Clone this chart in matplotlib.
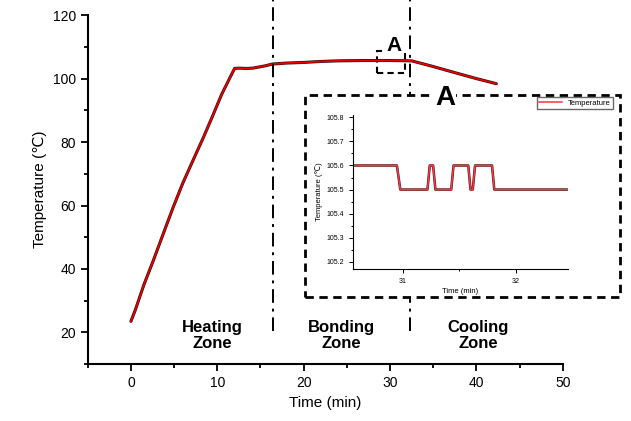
import matplotlib
matplotlib.use("Agg")
import matplotlib.pyplot as plt
import matplotlib.patches as patches
from matplotlib.ticker import MultipleLocator

plt.rcParams['font.family'] = ['Liberation Sans', 'DejaVu Sans']

# main temperature profile (min, degC)
time_main = [0.0, 0.5, 1.5, 2.6, 3.8, 4.9, 6.0, 7.2, 8.4, 9.5, 10.5, 11.5,
             12.0, 12.5, 13.4, 14.1, 15.5, 16.4, 18.0, 20.0, 21.9, 24.0, 26.9,
             30.0, 32.5, 35.0, 38.0, 40.0, 42.3]
temp_main = [23.5, 27.0, 35.0, 42.7, 51.5, 59.5, 67.0, 74.3, 81.5, 88.5, 95.0,
             100.5, 103.2, 103.3, 103.2, 103.3, 104.0, 104.6, 104.9, 105.1,
             105.4, 105.6, 105.7, 105.7, 105.6, 103.8, 101.5, 100.0, 98.4]

# zoomed detail "A"
time_in = [30.5, 30.95, 30.98, 31.22, 31.24, 31.27, 31.29, 31.43, 31.45, 31.58,
           31.60, 31.62, 31.64, 31.79, 31.81, 32.5]
temp_in = [105.6, 105.6, 105.5, 105.5, 105.6, 105.6, 105.5, 105.5, 105.6, 105.6,
           105.5, 105.5, 105.6, 105.6, 105.5, 105.5]

zone_bounds = [16.5, 32.3]
zone_names = ['Heating\nZone', 'Bonding\nZone', 'Cooling\nZone']
zone_x = [9.4, 24.4, 40.2]

fig = plt.figure(figsize=(6.31, 4.21), dpi=100)
ax = fig.add_axes([0.139, 0.135, 0.753, 0.829])

ax.plot(time_main, temp_main, color='#2a1010', lw=2.2, solid_capstyle='round')
ax.plot(time_main, temp_main, color='#e60000', lw=1.3, solid_capstyle='round')

for xb in zone_bounds:
    ax.plot([xb, xb], [20.5, 125], color='black', lw=1.4,
            linestyle=(0, (7, 3, 1.5, 3)), clip_on=False)

for name, xz in zip(zone_names, zone_x):
    ax.text(xz, 19, name, ha='center', va='center', fontsize=12,
            fontweight='bold', linespacing=1.1)

# small marker box A
ax.add_patch(patches.Rectangle((28.5, 101.7), 3.2, 6.9, fill=False, lw=1.5,
                               ls=(0, (3, 2)), ec='black'))
ax.text(30.5, 110.5, 'A', ha='center', va='center', fontsize=15,
        fontweight='bold', bbox=dict(fc='white', ec='none', pad=0.5))

ax.set_xlim(-5, 50)
ax.set_ylim(10, 120)
ax.xaxis.set_major_locator(MultipleLocator(10))
ax.xaxis.set_minor_locator(MultipleLocator(5))
ax.yaxis.set_major_locator(MultipleLocator(20))
ax.yaxis.set_minor_locator(MultipleLocator(10))
ax.set_yticks([20, 40, 60, 80, 100, 120])
ax.spines['top'].set_visible(False)
ax.spines['right'].set_visible(False)
for s in ['left', 'bottom']:
    ax.spines[s].set_linewidth(1.5)
ax.tick_params(which='major', length=5, width=1.3, labelsize=10)
ax.tick_params(which='minor', length=3, width=1.3)
ax.set_xlabel('Time (min)', fontsize=11)
ax.set_ylabel('Temperature (℃)', fontsize=11)

# inset frame
fig.patches.append(patches.Rectangle((305 / 631, 1 - 297 / 421), 315 / 631, 202 / 421,
                                     transform=fig.transFigure, fill=True, fc='white',
                                     ec='black', lw=2, ls=(0, (3, 2)), zorder=5))
fig.text(445 / 631, 1 - 98 / 421, 'A', ha='center', va='center', fontsize=20,
         fontweight='bold', zorder=7, bbox=dict(fc='white', ec='none', pad=1))

ax_in = fig.add_axes([0.559, 0.361, 0.341, 0.366], zorder=6)
ax_in.patch.set_alpha(0)
ax_in.plot(time_in, temp_in, color='#3a1a1a', lw=1.8)
line_in, = ax_in.plot(time_in, temp_in, color='#ff3344', lw=1.1, label='Temperature')
ax_in.set_xlim(30.56, 32.46)
ax_in.set_ylim(105.17, 105.81)
ax_in.set_xticks([31, 32])
ax_in.xaxis.set_minor_locator(MultipleLocator(0.5))
ax_in.set_yticks([105.2, 105.3, 105.4, 105.5, 105.6, 105.7, 105.8])
ax_in.yaxis.set_minor_locator(MultipleLocator(0.05))
ax_in.spines['top'].set_visible(False)
ax_in.spines['right'].set_visible(False)
ax_in.tick_params(which='major', length=3, width=0.7, labelsize=5)
ax_in.tick_params(which='minor', length=1.5, width=0.7)
ax_in.set_xlabel('Time (min)', fontsize=5.5, labelpad=2)
ax_in.set_ylabel('Temperature (℃)', fontsize=5.5, labelpad=2)
fig.legend(handles=[line_in], loc='upper right', bbox_to_anchor=(613 / 631, 1 - 97 / 421),
           fontsize=5.5, frameon=True, fancybox=False, edgecolor='#444444',
           handlelength=3, borderpad=0.3, borderaxespad=0)

fig.savefig('out.png', dpi=100)
